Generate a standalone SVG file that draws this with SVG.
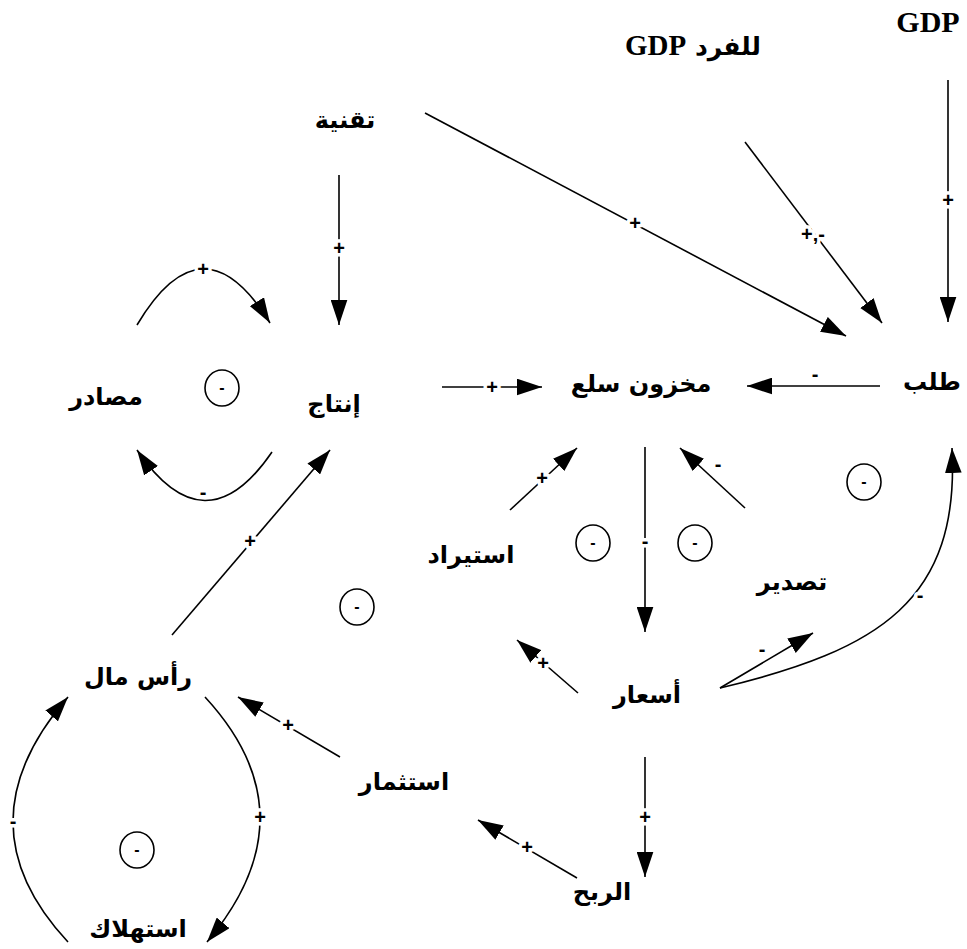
<svg xmlns="http://www.w3.org/2000/svg" width="967" height="949" viewBox="0 0 967 949">
<style>
.ar{font-family:"DejaVu Sans",sans-serif;font-weight:bold;font-size:24px;fill:#000;text-anchor:middle}
.en{font-family:"Liberation Serif",serif;font-weight:bold;font-size:30px;fill:#000;text-anchor:middle}
.c{fill:none;stroke:#000;stroke-width:1.6}
.lab{font-family:"Liberation Sans",sans-serif;font-weight:bold;font-size:20px;fill:#000;text-anchor:middle;stroke:#fff;stroke-width:7px;paint-order:stroke;stroke-linejoin:round}
.loop{fill:none;stroke:#000;stroke-width:1.6}
.lt{font-family:"Liberation Sans",sans-serif;font-weight:bold;font-size:16px;fill:#000;text-anchor:middle}
</style>
<defs>
<marker id="ah" viewBox="0 0 24 16" refX="24" refY="8" markerWidth="25" markerHeight="17" markerUnits="userSpaceOnUse" orient="auto"><path d="M0,0 L24,8 L0,16 Z" fill="#000"/></marker>
</defs>
<rect width="967" height="949" fill="#fff"/>
<g id="connectors">
<path class="c" marker-end="url(#ah)" d="M339,175 L339,325"/>
<text class="lab" x="339" y="255">+</text>
<path class="c" marker-end="url(#ah)" d="M137,325 Q203,214 270,323"/>
<text class="lab" x="203" y="276">+</text>
<path class="c" marker-end="url(#ah)" d="M272,452 Q205,550 137,450"/>
<text class="lab" x="203" y="499">-</text>
<path class="c" marker-end="url(#ah)" d="M442,387 L542,387"/>
<text class="lab" x="492" y="394">+</text>
<path class="c" marker-end="url(#ah)" d="M880,386 L747,386"/>
<text class="lab" x="815" y="381">-</text>
<path class="c" marker-end="url(#ah)" d="M425,113 L846,336"/>
<text class="lab" x="635" y="230">+</text>
<path class="c" marker-end="url(#ah)" d="M745,142 L882,323"/>
<text class="lab" x="813" y="241">+,-</text>
<path class="c" marker-end="url(#ah)" d="M948,80 L948,322"/>
<text class="lab" x="948" y="207">+</text>
<path class="c" marker-end="url(#ah)" d="M645,447 L645,632"/>
<text class="lab" x="645" y="548">-</text>
<path class="c" marker-end="url(#ah)" d="M510,510 L577,448"/>
<text class="lab" x="542" y="485">+</text>
<path class="c" marker-end="url(#ah)" d="M745,508 L680,448"/>
<text class="lab" x="718" y="471">-</text>
<path class="c" marker-end="url(#ah)" d="M578,693 L517,640"/>
<text class="lab" x="543" y="670">+</text>
<path class="c" marker-end="url(#ah)" d="M720,688 L813,633"/>
<text class="lab" x="762" y="656">-</text>
<path class="c" marker-end="url(#ah)" d="M720,688 C880,650 960,600 952,448"/>
<text class="lab" x="920" y="602">-</text>
<path class="c" marker-end="url(#ah)" d="M645,757 L645,877"/>
<text class="lab" x="645" y="824">+</text>
<path class="c" marker-end="url(#ah)" d="M577,878 L478,820"/>
<text class="lab" x="527" y="854">+</text>
<path class="c" marker-end="url(#ah)" d="M340,757 L238,697"/>
<text class="lab" x="288" y="732">+</text>
<path class="c" marker-end="url(#ah)" d="M172,635 L330,450"/>
<text class="lab" x="250" y="548">+</text>
<path class="c" marker-end="url(#ah)" d="M205,697 Q314,815 207,942"/>
<text class="lab" x="260" y="824">+</text>
<path class="c" marker-end="url(#ah)" d="M68,942 Q-42,824 68,697"/>
<text class="lab" x="13" y="828">-</text>
</g>
<g id="loops">
<g id="loop1"><ellipse class="loop" cx="222" cy="388" rx="17" ry="18"/><text class="lt" x="222" y="393">-</text></g>
<g id="loop2"><ellipse class="loop" cx="357" cy="607" rx="17" ry="18"/><text class="lt" x="357" y="612">-</text></g>
<g id="loop3"><ellipse class="loop" cx="593" cy="543" rx="17" ry="18"/><text class="lt" x="593" y="548">-</text></g>
<g id="loop4"><ellipse class="loop" cx="695" cy="543" rx="17" ry="18"/><text class="lt" x="695" y="548">-</text></g>
<g id="loop5"><ellipse class="loop" cx="864" cy="482" rx="17" ry="18"/><text class="lt" x="864" y="487">-</text></g>
<g id="loop6"><ellipse class="loop" cx="137" cy="850" rx="17" ry="18"/><text class="lt" x="137" y="855">-</text></g>
</g>
<g id="gdp"><text class="en" x="928" y="32">GDP</text></g>
<g id="gdp-per-capita"><text class="ar" x="693" y="55" direction="rtl" style="font-size:25px">للفرد <tspan class="en" style="font-size:29px">GDP</tspan></text></g>
<g id="technology"><text class="ar" x="345" y="128">تقنية</text></g>
<g id="production"><text class="ar" x="334" y="412">إنتاج</text></g>
<g id="resources"><text class="ar" x="106" y="405">مصادر</text></g>
<g id="inventory"><text class="ar" x="641" y="392">مخزون سلع</text></g>
<g id="demand"><text class="ar" x="932" y="390">طلب</text></g>
<g id="import"><text class="ar" x="471" y="563">استيراد</text></g>
<g id="export"><text class="ar" x="792" y="590">تصدير</text></g>
<g id="prices"><text class="ar" x="647" y="703">أسعار</text></g>
<g id="capital"><text class="ar" x="138" y="685">رأس مال</text></g>
<g id="investment"><text class="ar" x="404" y="790">استثمار</text></g>
<g id="profit"><text class="ar" x="602" y="900">الربح</text></g>
<g id="depreciation"><text class="ar" x="138" y="937">استهلاك</text></g>
</svg>
